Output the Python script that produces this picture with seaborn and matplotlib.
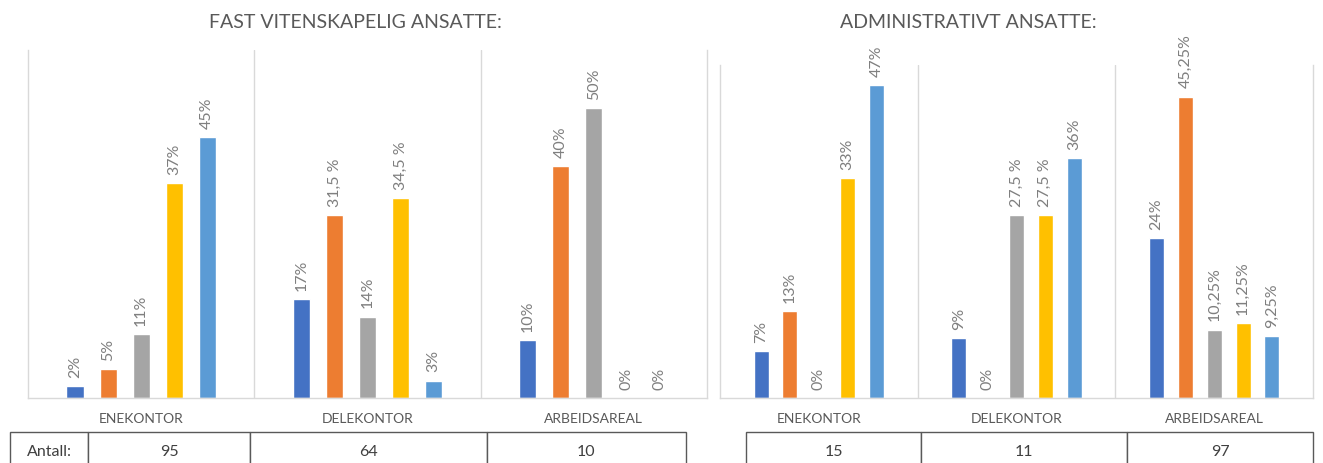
import pandas as pd
import matplotlib.pyplot as plt
import seaborn as sns

# Data
categories = ['ENEKONTOR', 'DELEKONTOR', 'ARBEIDSAREAL']
series = ['1', '2', '3', '4', '5']
colors = ['#4472C4', '#ED7D31', '#A5A5A5', '#FFC000', '#5B9BD5']

vit_values = [[2, 5, 11, 37, 45],
              [17, 31.5, 14, 34.5, 3],
              [10, 40, 50, 0, 0]]
vit_labels = [['2%', '5%', '11%', '37%', '45%'],
              ['17%', '31,5 %', '14%', '34,5 %', '3%'],
              ['10%', '40%', '50%', '0%', '0%']]
vit_counts = ['95', '64', '10']

adm_values = [[7, 13, 0, 33, 47],
              [9, 0, 27.5, 27.5, 36],
              [24, 45.25, 10.25, 11.25, 9.25]]
adm_labels = [['7%', '13%', '0%', '33%', '47%'],
              ['9%', '0%', '27,5 %', '27,5 %', '36%'],
              ['24%', '45,25%', '10,25%', '11,25%', '9,25%']]
adm_counts = ['15', '11', '97']

sns.set_theme(style='white')
plt.rcParams['font.family'] = ['Lato', 'DejaVu Sans']

W, H = 1323, 463
fig = plt.figure(figsize=(W / 100, H / 100), dpi=100)


def px_axes(x0, y0, x1, y1):
    # pixel box (top-left origin) -> figure axes
    return fig.add_axes([x0 / W, 1 - y1 / H, (x1 - x0) / W, (y1 - y0) / H])


def draw_panel(ax, values, labels, ymax):
    rows = []
    for c, vals in zip(categories, values):
        for s, v in zip(series, vals):
            rows.append({'cat': c, 'series': s, 'value': v})
    df = pd.DataFrame(rows)
    sns.barplot(data=df, x='cat', y='value', hue='series', order=categories,
                hue_order=series, palette=colors, width=0.73, gap=0.48,
                legend=False, ax=ax, saturation=1)
    for i, cont in enumerate(ax.containers):
        ax.bar_label(cont, labels=[labels[j][i] for j in range(len(categories))],
                     rotation=90, padding=6, fontsize=11.5, color='#7F7F7F')
    ax.set_ylim(0, ymax)
    ax.set_xlim(-0.5, 2.5)
    ax.set_xlabel('')
    ax.set_ylabel('')
    ax.set_yticks([])
    ax.tick_params(axis='x', length=0, pad=11, labelsize=10, labelcolor='#595959')
    for x in [0.5, 1.5]:
        ax.axvline(x, color='#D9D9D9', lw=1)
    ax.spines['top'].set_visible(False)
    for sp in ['left', 'right', 'bottom']:
        ax.spines[sp].set_color('#D9D9D9')
        ax.spines[sp].set_linewidth(1)


ax1 = px_axes(28, 50, 707, 398)
draw_panel(ax1, vit_values, vit_labels, 60)
ax2 = px_axes(720, 65, 1313, 398)
draw_panel(ax2, adm_values, adm_labels, 50)

fig.text(355 / W, 1 - 22 / H, 'FAST VITENSKAPELIG ANSATTE:', ha='center', va='center',
         fontsize=14, color='#595959')
fig.text(968 / W, 1 - 22 / H, 'ADMINISTRATIVT ANSATTE:', ha='center', va='center',
         fontsize=14, color='#595959')


def draw_table(x0, x1, cells, widths):
    tax = px_axes(x0, 432, x1, 473)
    tax.axis('off')
    tot = sum(widths)
    tbl = tax.table(cellText=[cells], colWidths=[w / tot for w in widths],
                    cellLoc='center', bbox=[0, 0, 1, 1])
    tbl.auto_set_font_size(False)
    tbl.set_fontsize(11.5)
    for cell in tbl.get_celld().values():
        cell.set_edgecolor('#595959')
        cell.set_linewidth(1)
        cell.get_text().set_color('#404040')


draw_table(10, 686, ['Antall:'] + vit_counts, [78, 162, 237, 199])
draw_table(746, 1313, adm_counts, [175, 206, 186])

fig.savefig('out.png', dpi=100)
